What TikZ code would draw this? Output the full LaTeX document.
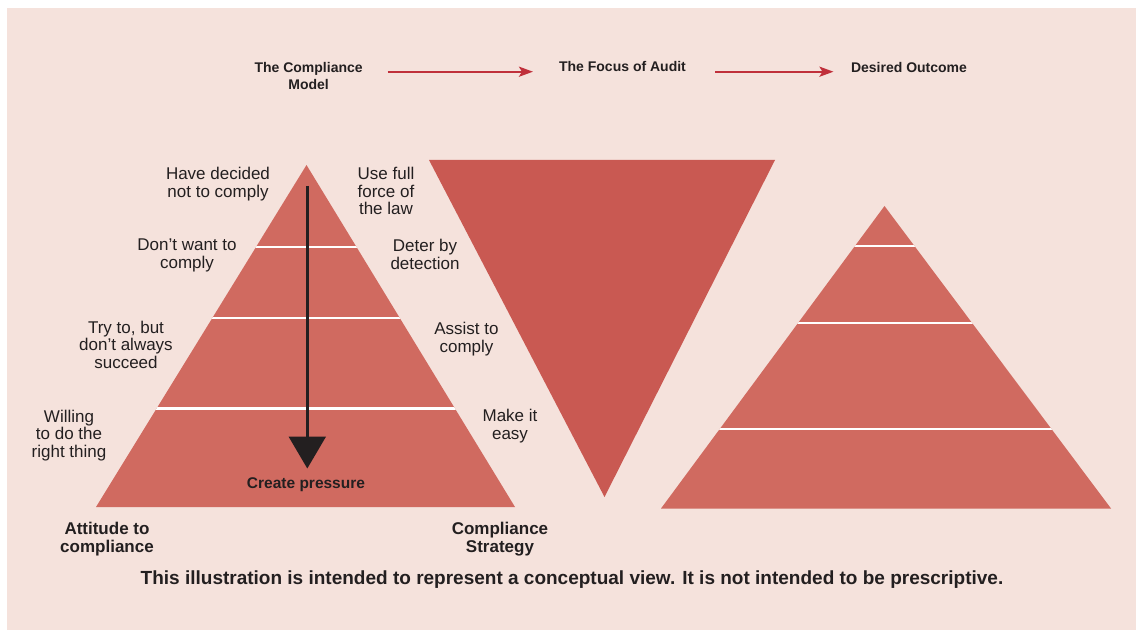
\documentclass[tikz,border=0pt]{standalone}
\usepackage{fontspec}
\setmainfont{Liberation Sans}
\usetikzlibrary{arrows.meta}
\definecolor{bgpink}{HTML}{F5E2DC}
\definecolor{pyr}{HTML}{D06A60}
\definecolor{inv}{HTML}{C95952}
\definecolor{arrred}{HTML}{C0303B}
\definecolor{txt}{HTML}{231F20}
\tikzset{
  lbl/.style={inner sep=0pt, align=center, text=txt, anchor=north, font=\fontsize{17}{17.6}\selectfont},
  blbl/.style={inner sep=0pt, align=center, text=txt, anchor=north, font=\bfseries\fontsize{17}{18.4}\selectfont},
  head/.style={inner sep=0pt, align=center, text=txt, anchor=north, font=\bfseries\fontsize{14}{16.6}\selectfont},
  redarr/.style={draw=arrred, line width=2.3pt, -{Stealth[length=14pt,width=10pt,inset=3pt]}},
  sep/.style={draw=white, line width=2.3pt},
}
\begin{document}
\begin{tikzpicture}[x=1pt,y=-1pt]
\useasboundingbox (0,0) rectangle (1136,631);
\fill[white] (0,0) rectangle (1136,631);
\fill[bgpink] (6.5,8.5) rectangle (1136,630);

% headings
\node[head] (cm) at (308.6,62.3) {The Compliance\\Model};
\node[head] (fa) at (622.5,61) {The Focus of Audit};
\node[head] (do) at (909,62.3) {Desired Outcome};
\coordinate (a1s) at (387.5,71.7);
\coordinate (a1e) at (533,71.7);
\coordinate (a2s) at (715,71.7);
\coordinate (a2e) at (833.5,71.7);
\draw[redarr] (a1s) -- (a1e);
\draw[redarr] (a2s) -- (a2e);

% left pyramid
\fill[pyr] (306.5,165) -- (96,507) -- (515,507) -- cycle;
\begin{scope}
\clip (306.5,165) -- (96,507) -- (515,507) -- cycle;
\draw[sep] (80,247) -- (540,247);
\draw[sep] (80,318) -- (540,318);
\draw[sep] (80,408.5) -- (540,408.5);
\end{scope}

% inverted triangle
\fill[inv] (429,160) -- (775,160) -- (604.5,497) -- cycle;

% right pyramid
\fill[pyr] (884.5,206) -- (661,508.5) -- (1111,508.5) -- cycle;
\begin{scope}
\clip (884.5,206) -- (661,508.5) -- (1111,508.5) -- cycle;
\draw[sep] (640,246.3) -- (1130,246.3);
\draw[sep] (640,323) -- (1130,323);
\draw[sep] (640,428.7) -- (1130,428.7);
\end{scope}

% pressure arrow
\coordinate (ps) at (307.3,186);
\coordinate (pe) at (307.3,468.5);
\draw[txt, line width=2.4pt, -{Triangle[length=32pt,width=37pt]}] (ps) -- (pe);

% labels
\node[lbl] (l1) at (218,167) {Have decided\\not to comply};
\node[lbl] (l2) at (187,238.8) {Don’t want to\\comply};
\node[lbl] (l3) at (126,320.5) {Try to, but\\don’t always\\succeed};
\node[lbl] (l4) at (69,409.5) {Willing\\to do the\\right thing};
\node[lbl] (r1) at (386,167) {Use full\\force of\\the law};
\node[lbl] (r2) at (425,239) {Deter by\\detection};
\node[lbl] (r3) at (466.5,322) {Assist to\\comply};
\node[lbl] (r4) at (510,409) {Make it\\easy};
\node[inner sep=0pt, text=txt, anchor=base, font=\bfseries\fontsize{15.5}{18}\selectfont] (cp) at (306,488.3) {Create pressure};
\node[blbl] (att) at (107,522) {Attitude to\\compliance};
\node[blbl] (cs) at (500,522) {Compliance\\Strategy};
\node[inner sep=0pt, text=txt, anchor=base, font=\bfseries\fontsize{19}{21}\selectfont] (note) at (572,584) {This illustration is intended to represent a conceptual view. It is not intended to be prescriptive.};
\end{tikzpicture}
\end{document}
